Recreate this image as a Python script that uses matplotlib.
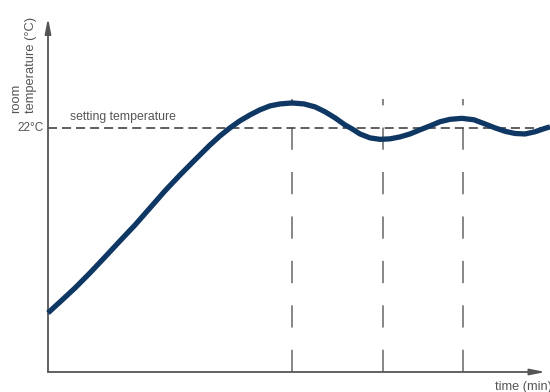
import matplotlib
matplotlib.use("Agg")
import matplotlib.pyplot as plt

plt.rcParams.update({"font.family": ["Liberation Sans", "DejaVu Sans"],
                     "lines.scale_dashes": False})

# room temperature response (time in arbitrary min, temp in degC)
time = [0, 2.4, 5.4, 8.4, 11.4, 14.4, 17.4, 20.4, 23.4, 26.4, 29.4, 32.4, 34.4,
        36.4, 38.4, 40.4, 42.4, 44.4, 46.4, 48.8, 51.2, 53.4, 55.4, 57.4, 59.4,
        60.8, 62.4, 64.4, 66.4, 68.4, 70.4, 72.4, 74.4, 76.4, 78.4, 80.4, 82.8,
        85.2, 87.4, 89.4, 91.4, 93.4, 95.4, 97.4, 99.4, 100.4]
temp = [14.42, 14.87, 15.44, 16.06, 16.71, 17.37, 18.02, 18.72, 19.42, 20.07,
        20.69, 21.30, 21.67, 22.00, 22.29, 22.53, 22.74, 22.90, 22.98, 23.02,
        22.98, 22.86, 22.66, 22.41, 22.12, 21.96, 21.75, 21.59, 21.53, 21.55,
        21.63, 21.75, 21.92, 22.08, 22.25, 22.35, 22.39, 22.33, 22.16, 22.00,
        21.86, 21.77, 21.75, 21.84, 21.98, 22.04]
setpoint = 22
marks = [48.8, 67.0, 83.0]     # vertical guides at the extremes

GRAY = "#555555"
NAVY = "#0f3764"

W, H = 550, 392
fig = plt.figure(figsize=(W / 100, H / 100), dpi=100)
ax = fig.add_axes([48 / W, 20 / H, 500 / W, 354 / H])
ax.set_xlim(0, 100)
ax.set_ylim(12, 26.5)
for s in ax.spines.values():
    s.set_visible(False)
ax.set_xticks([]); ax.set_yticks([])

# axes with arrow heads
arr = dict(arrowstyle="-|>,head_length=0.9,head_width=0.18", color=GRAY, lw=1.3,
           shrinkA=0, shrinkB=0)
ax.annotate("", xy=(0, 1), xytext=(0, 0), xycoords="axes fraction", arrowprops=arr)
ax.annotate("", xy=(0.995, 0), xytext=(0, 0), xycoords="axes fraction", arrowprops=arr)

# setpoint line
ax.plot([0, 100.4], [setpoint, setpoint], color="#444444", lw=1.2,
        dashes=(6.5, 3.6), clip_on=False, zorder=2)
# vertical guides
ax.vlines(marks, 12, 23.19, color="#666666", lw=1.1, linestyles=[(0, (16, 16))], zorder=1)

ax.plot(time, temp, color=NAVY, lw=3.8, solid_capstyle="butt",
        solid_joinstyle="round", clip_on=False, zorder=3)

ax.text(-0.8, setpoint, "22°C", ha="right", va="center", fontsize=8.5, color=GRAY)
ax.text(4.4, setpoint + 0.2, "setting temperature", ha="left", va="bottom",
        fontsize=8.8, color=GRAY)
ax.text(-2.2, 22.6, "room\ntemperature (°C)", rotation=90, ha="right", va="bottom",
        multialignment="left", fontsize=9.3, color=GRAY, linespacing=1.35)
ax.text(89.4, -0.025, "time (min)", transform=ax.get_xaxis_transform(), ha="left",
        va="top", fontsize=9.2, color=GRAY)

fig.savefig("out.png", dpi=100)
